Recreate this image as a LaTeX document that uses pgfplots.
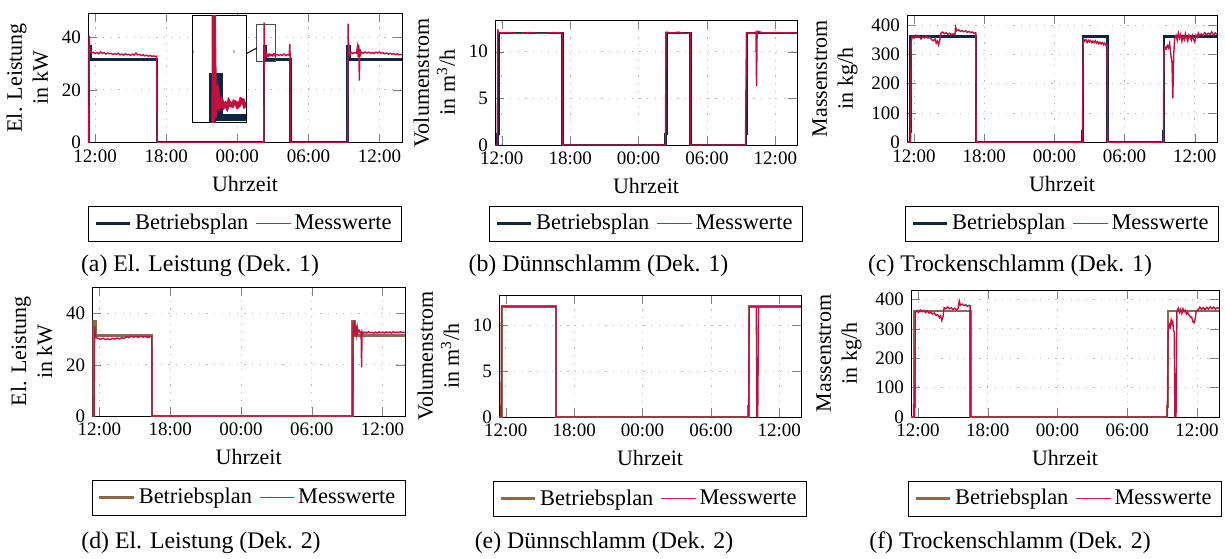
\documentclass[border=0pt]{standalone}
\usepackage{pgfplots}
\usepackage{pgfplotstable}
\pgfplotsset{compat=1.18}
\usepackage{fontspec}
\setmainfont{Liberation Serif}
\definecolor{cplan}{HTML}{0F2545}
\definecolor{cmess}{HTML}{C3103F}
\definecolor{cmessleg}{HTML}{C9204E}
\definecolor{cplantwo}{HTML}{8A6A4A}
\pgfplotsset{
  dek/.style={scale only axis, xmin=11.4, xmax=37.9, ymin=0,
    xtick={12,18,24,30,36}, xticklabels={12:00,18:00,00:00,06:00,12:00},
    grid=major, major grid style={gray!55, dash pattern=on 0.6pt off 3.2pt},
    tick label style={font=\fontsize{9.5}{11}\selectfont},
    label style={font=\fontsize{11}{13}\selectfont},
    ylabel style={align=center},
    xlabel={Uhrzeit},
    /pgf/number format/assume math mode=true,
    legend columns=2,
    legend style={anchor=north, draw=black, font=\fontsize{11.2}{13}\selectfont,
      /tikz/every even column/.append style={column sep=2pt}}},
  planA/.style={cplan, line width=1.3pt},
  planB/.style={cplantwo, line width=1.3pt},
  messw/.style={cmess, line width=0.7pt,
    legend image code/.code={\fill[cmessleg, draw=none] (0cm,-0.35pt) rectangle (0.6cm,0.35pt);}},
}
\newcommand{\subcap}[1]{\fontsize{11.9}{14}\selectfont #1}

% (a) data, used by the main axis and the magnified inset
\pgfplotstableread{
t p
11.4 0
11.45 0
11.45 36.7
11.65 36.7
11.65 31.5
17.23 31.5
17.23 0
26.24 0
26.24 36.7
26.42 36.7
26.42 31.5
28.48 31.5
28.48 0
33.31 0
33.31 36.7
33.48 36.7
33.48 31.5
37.9 31.5
}\planEinsLeistung
\pgfplotstableread{
t m
11.4 0
11.47 0
11.5 40.6
11.55 36
11.6 34.8
11.7 33.9
11.85 34.3
12.0 33.8
12.15 34.2
12.3 33.7
12.45 34.4
12.6 33.9
12.75 34.1
12.9 33.6
13.05 34.0
13.2 33.7
13.35 33.9
13.5 33.4
13.65 33.8
13.8 33.5
13.95 33.9
14.1 33.3
14.25 33.6
14.4 33.2
14.55 33.7
14.7 33.3
14.85 33.5
15.0 33.1
15.15 33.6
15.3 33.2
15.45 34.0
15.6 33.3
15.75 33.5
15.9 33.0
16.05 33.4
16.2 32.9
16.35 33.2
16.5 32.8
16.65 33.1
16.8 32.7
16.95 32.9
17.1 32.6
17.2 32.8
17.23 0
26.24 0
26.27 45.5
26.31 31.5
26.34 35
26.37 32.6
26.40 34.2
26.44 33.0
26.5 33.6
26.55 32.9
26.6 33.2
26.65 32.8
26.7 33.5
26.75 33.1
26.8 33.0
26.85 33.5
26.9 33.4
26.95 32.9
27.0 33.1
27.05 33.8
27.1 33.7
27.15 33.0
27.2 33.2
27.35 33.5
27.5 33.0
27.65 33.4
27.8 33.1
27.95 33.6
28.1 33.0
28.25 33.4
28.38 33.2
28.43 37.4
28.46 33
28.48 0
33.31 0
33.35 45.2
33.39 33
33.45 35.5
33.5 33.4
33.6 34.3
33.75 33.8
33.9 34.2
34.05 33.9
34.15 36.5
34.2 32.5
34.25 37.2
34.3 23.5
34.35 35.5
34.42 33.5
34.5 34.3
34.65 33.9
34.8 34.4
34.95 34.0
35.1 34.3
35.25 33.9
35.4 34.2
35.55 33.8
35.7 34.3
35.85 34.0
36.0 34.4
36.15 33.9
36.3 34.1
36.45 33.7
36.6 34.0
36.75 33.6
36.9 33.9
37.05 33.5
37.2 33.8
37.35 33.4
37.5 33.7
37.65 33.3
37.9 33.5
}\messEinsLeistung

\begin{document}
\begin{tikzpicture}
\useasboundingbox (0,0) rectangle (612.5pt,-279pt);

% (a) El. Leistung Dek. 1
\begin{axis}[dek, at={(44pt,-71.25pt)}, anchor=south west, width=157pt, height=64.75pt,
  ymax=49.2, ytick={0,20,40}, ylabel={El. Leistung\\in kW},
  legend style={at={(0.5,-0.49)}}]
\addplot[planA] table[x=t,y=p] {\planEinsLeistung};
\addlegendentry{Betriebsplan}
\addplot[messw] table[x=t,y=m] {\messEinsLeistung};
\addlegendentry{Messwerte}
\draw[black!70, line width=0.5pt] (axis cs:25.65,30.9) rectangle (axis cs:27.19,44.7);
\end{axis}
\draw[black, line width=0.5pt] (123pt,-26.93pt) -- (128.43pt,-23.99pt);
% magnified inset of (a)
\begin{axis}[scale only axis, at={(96pt,-61pt)}, anchor=south west, width=27pt, height=53.5pt,
  xmin=25.65, xmax=27.19, ymin=30.9, ymax=44.7, xtick=\empty, ytick={40}, yticklabels={},
  major tick length=0pt, ymajorgrids, major grid style={gray!55, line width=1.2pt, dash pattern=on 1.2pt off 9pt},
  axis background/.style={fill=white}, axis line style={black, line width=0.5pt}]
\addplot[cplan, line width=3.8pt] table[x=t,y=p] {\planEinsLeistung};
\addplot[cmess, line width=2pt] table[x=t,y=m] {\messEinsLeistung};
\end{axis}

% (b) Duennschlamm Dek. 1
\begin{axis}[dek, at={(247.5pt,-72.5pt)}, anchor=south west, width=151pt, height=62.5pt,
  ymax=13.4, ytick={0,5,10}, ylabel={Volumenstrom\\in m\textsuperscript{3}/h},
  legend style={at={(0.5,-0.488)}}]
\addplot[planA] coordinates {(11.4,0)(11.62,0)(11.62,1.2)(11.7,1.2)(11.7,12)(17.33,12)(17.33,0)(26.36,0)(26.36,1.2)(26.43,1.2)(26.43,12)(28.55,12)(28.55,0)(33.44,0)(33.44,1.2)(33.5,1.2)(33.5,12)(37.9,12)};
\addlegendentry{Betriebsplan}
\addplot[messw] coordinates {(11.4,0)(11.6,0)(11.64,12.4)(11.7,12.0)(12.5,12.05)(13.5,11.95)(14.5,12.05)(15.5,11.95)(16.5,12.05)(17.3,12)(17.33,0)(26.36,0)(26.4,12.1)(27,12)(27.5,12.1)(28,11.95)(28.53,12)(28.55,0)(33.38,0)(33.46,12)(34.0,12)(34.3,12.1)(34.35,6.3)(34.4,12.2)(35,12)(36,12.05)(37.9,12)};
\addlegendentry{Messwerte}
\end{axis}

% (c) Trockenschlamm Dek. 1
\begin{axis}[dek, at={(453.5pt,-71.15pt)}, anchor=south west, width=155pt, height=63.65pt,
  ymax=434, ytick={0,100,200,300,400}, ylabel={Massenstrom\\in kg/h},
  legend style={at={(0.5,-0.5)}}]
\addplot[planA] coordinates {(11.4,0)(11.65,0)(11.65,36)(11.72,36)(11.72,360)(17.31,360)(17.31,0)(26.4,0)(26.4,36)(26.45,36)(26.45,360)(28.55,360)(28.55,0)(33.32,0)(33.32,36)(33.38,36)(33.38,360)(37.9,360)};
\addlegendentry{Betriebsplan}
\addplot[messw] coordinates {(11.4,0)(11.7,0)(11.75,340)(11.85,362)(12.0,355)(12.15,365)(12.3,358)(12.45,362)(12.6,352)(12.75,360)(12.9,356)(13.05,363)(13.2,355)(13.35,359)(13.5,350)(13.65,346)(13.8,352)(13.9,338)(14.0,345)(14.1,332)(14.2,348)(14.3,372)(14.45,376)(14.6,370)(14.75,374)(14.9,368)(15.05,372)(15.2,366)(15.35,370)(15.5,367)(15.55,393)(15.65,380)(15.8,384)(15.95,378)(16.1,381)(16.25,377)(16.4,380)(16.55,375)(16.7,378)(16.85,374)(17.0,376)(17.15,372)(17.28,374)(17.31,0)
(26.4,0)(26.45,330)(26.5,352)(26.6,345)(26.7,350)(26.8,340)(26.9,348)(27.0,342)(27.1,347)(27.2,339)(27.3,345)(27.4,340)(27.5,346)(27.6,338)(27.7,343)(27.8,336)(27.9,341)(28.0,335)(28.1,340)(28.2,333)(28.3,338)(28.4,331)(28.5,334)(28.55,0)
(33.32,0)(33.36,310)(33.45,325)(33.55,318)(33.65,330)(33.75,322)(33.85,338)(33.95,300)(34.05,270)(34.12,150)(34.2,300)(34.28,355)(34.4,365)(34.5,348)(34.6,372)(34.7,355)(34.8,368)(34.9,345)(35.0,362)(35.1,350)(35.2,370)(35.3,356)(35.4,345)(35.5,366)(35.6,360)(35.7,348)(35.8,364)(35.9,350)(36.0,342)(36.1,365)(36.2,358)(36.3,372)(36.4,362)(36.55,370)(36.7,364)(36.85,374)(37.0,366)(37.15,372)(37.3,368)(37.45,376)(37.6,366)(37.75,373)(37.9,368)};
\addlegendentry{Messwerte}
\end{axis}

% (d) El. Leistung Dek. 2
\begin{axis}[dek, at={(46.15pt,-208pt)}, anchor=south west, width=156.35pt, height=64.5pt,
  ymax=50.4, ytick={0,20,40}, ylabel={El. Leistung\\in kW},
  legend style={at={(0.5,-0.496)}}]
\addplot[planB] coordinates {(11.4,0)(11.52,0)(11.52,37)(11.72,37)(11.72,31.5)(16.46,31.5)(16.46,0)(33.47,0)(33.47,37)(33.67,37)(33.67,31.5)(37.9,31.5)};
\addlegendentry{Betriebsplan}
\addplot[messw] coordinates {(11.4,0)(11.55,0)(11.6,35)(11.65,32)(11.72,30.6)(11.9,30.3)(12.1,30.0)(12.3,30.4)(12.5,29.9)(12.7,30.2)(12.9,29.8)(13.1,30.3)(13.3,30.0)(13.5,30.5)(13.7,30.1)(13.9,30.6)(14.1,30.3)(14.3,31.0)(14.5,30.6)(14.7,31.2)(14.9,30.8)(15.1,31.1)(15.3,30.7)(15.5,31.2)(15.7,30.8)(15.9,31.1)(16.1,30.7)(16.3,31.0)(16.44,30.9)(16.46,0)
(33.47,0)(33.5,36.5)(33.55,31)(33.6,37.3)(33.65,31.5)(33.72,35.5)(33.78,32)(33.85,34.5)(33.9,32.5)(34.0,33.5)(34.1,32.6)(34.18,32.8)(34.22,19)(34.26,33)(34.35,32.3)(34.5,32.8)(34.65,32.4)(34.8,32.9)(34.95,32.5)(35.1,32.7)(35.25,32.3)(35.4,32.8)(35.55,32.4)(35.7,32.9)(35.85,32.5)(36.0,32.8)(36.15,32.4)(36.3,32.9)(36.45,32.5)(36.6,32.8)(36.75,32.4)(36.9,32.9)(37.05,32.6)(37.2,32.8)(37.35,32.5)(37.5,32.9)(37.65,32.6)(37.9,32.7)};
\addlegendentry{Messwerte}
\end{axis}

% (e) Duennschlamm Dek. 2
\begin{axis}[dek, at={(249.5pt,-208.5pt)}, anchor=south west, width=151pt, height=61pt,
  ymax=13.25, ytick={0,5,10}, ylabel={Volumenstrom\\in m\textsuperscript{3}/h},
  legend style={at={(0.5,-0.525)}}]
\addplot[planB] coordinates {(11.4,0)(11.6,0)(11.6,1.2)(11.66,1.2)(11.66,12)(16.4,12)(16.4,0)(33.28,0)(33.28,1.2)(33.34,1.2)(33.34,12)(37.9,12)};
\addlegendentry{Betriebsplan}
\addplot[messw] coordinates {(11.4,0)(11.58,0)(11.62,12)(16.4,12)(16.4,0)(33.3,0)(33.36,12)(33.98,12)(34.02,0)(34.1,0)(34.18,12)(37.9,12)};
\addlegendentry{Messwerte}
\end{axis}

% (f) Trockenschlamm Dek. 2
\begin{axis}[dek, at={(455.5pt,-208.5pt)}, anchor=south west, width=154pt, height=63.5pt,
  ymax=432, ytick={0,100,200,300,400}, ylabel={Massenstrom\\in kg/h},
  legend style={at={(0.5,-0.504)}}]
\addplot[planB] coordinates {(11.4,0)(11.66,0)(11.66,36)(11.72,36)(11.72,360)(16.5,360)(16.5,0)(33.42,0)(33.42,36)(33.5,36)(33.5,360)(37.9,360)};
\addlegendentry{Betriebsplan}
\addplot[messw] coordinates {(11.4,0)(11.62,0)(11.62,45)(11.66,0)(11.72,0)(11.78,355)(11.9,362)(12.05,356)(12.2,364)(12.35,358)(12.5,363)(12.65,355)(12.8,361)(12.95,353)(13.1,358)(13.25,350)(13.4,354)(13.55,346)(13.7,348)(13.85,338)(13.95,344)(14.05,328)(14.15,340)(14.25,372)(14.4,368)(14.55,374)(14.7,369)(14.85,372)(15.0,366)(15.15,370)(15.3,365)(15.45,369)(15.55,395)(15.65,380)(15.8,384)(15.95,379)(16.1,382)(16.25,377)(16.4,380)(16.48,378)(16.5,0)
(33.45,0)(33.52,290)(33.6,315)(33.7,305)(33.78,330)(33.85,318)(33.92,325)(33.98,295)(34.05,288)(34.1,0)(34.2,0)(34.28,360)(34.4,370)(34.5,356)(34.6,366)(34.7,352)(34.8,368)(34.9,358)(35.0,363)(35.1,350)(35.2,356)(35.3,348)(35.45,340)(35.55,340)(35.65,325)(35.75,320)(35.85,335)(35.95,362)(36.1,364)(36.25,374)(36.4,366)(36.55,372)(36.7,365)(36.85,373)(37.0,367)(37.15,375)(37.3,368)(37.45,374)(37.6,367)(37.75,372)(37.9,370)};
\addlegendentry{Messwerte}
\end{axis}

\node[anchor=base] at (100pt,-135.5pt) {\subcap{(a) El. Leistung (Dek. 1)}};
\node[anchor=base] at (299.25pt,-135.5pt) {\subcap{(b) Dünnschlamm (Dek. 1)}};
\node[anchor=base] at (505pt,-135.5pt) {\subcap{(c) Trockenschlamm (Dek. 1)}};
\node[anchor=base] at (100.5pt,-274pt) {\subcap{(d) El. Leistung (Dek. 2)}};
\node[anchor=base] at (302pt,-274pt) {\subcap{(e) Dünnschlamm (Dek. 2)}};
\node[anchor=base] at (505pt,-274pt) {\subcap{(f) Trockenschlamm (Dek. 2)}};
\end{tikzpicture}
\end{document}
